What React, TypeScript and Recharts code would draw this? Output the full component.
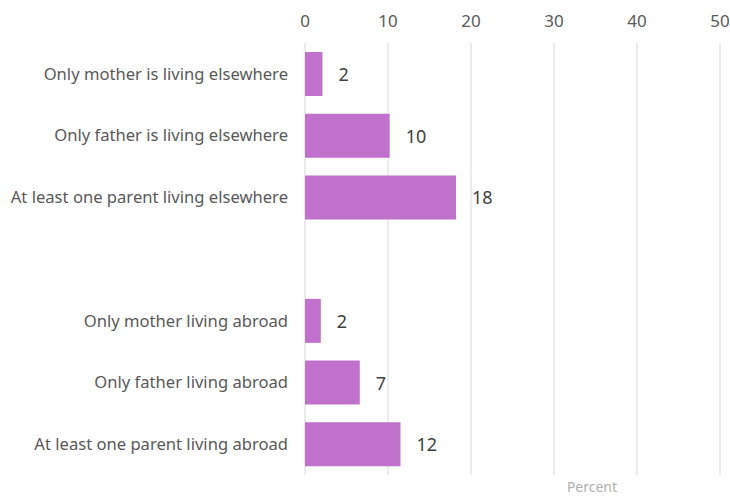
import React from "react";
import { BarChart, Bar, XAxis, YAxis, CartesianGrid, LabelList } from "recharts";

const categories = [
  "Only mother is living elsewhere",
  "Only father is living elsewhere",
  "At least one parent living elsewhere",
  "",
  "Only mother living abroad",
  "Only father living abroad",
  "At least one parent living abroad",
];
const values: (number | null)[] = [2.1, 10.2, 18.2, null, 1.9, 6.6, 11.5];
const valueLabels = ["2", "10", "18", "", "2", "7", "12"];
const xTicks = [0, 10, 20, 30, 40, 50];

const data = categories.map((c, i) => ({ name: c, value: values[i], label: valueLabels[i] }));

const FONT = "'Noto Sans', Roboto, sans-serif";

const ValueLabel = (props: any) => {
  const { x, y, width, height, value } = props;
  if (!value) return null;
  return (
    <text
      x={x + width + 16}
      y={y + height / 2}
      dominantBaseline="central"
      fill="#404040"
      fontSize={18}
      fontFamily={FONT}
    >
      {value}
    </text>
  );
};

export default function App() {
  return (
    <div style={{ position: "absolute", left: 0, top: 0, width: 730, height: 496, background: "#fff" }}>
      <BarChart
        width={730}
        height={496}
        data={data}
        layout="vertical"
        margin={{ top: 0, right: 10, bottom: 21, left: 0 }}
        barSize={44}
      >
        <CartesianGrid horizontal={false} vertical={true} stroke="#d9d9d9" />
        <XAxis
          type="number"
          orientation="top"
          domain={[0, 50]}
          ticks={xTicks}
          height={43}
          axisLine={false}
          tickLine={false}
          tickSize={0}
          tickMargin={16}
          tick={{ fill: "#595959", fontSize: 17, fontFamily: FONT }}
        />
        <YAxis
          type="category"
          dataKey="name"
          width={305}
          axisLine={false}
          tickLine={false}
          tickSize={0}
          tickMargin={17}
          interval={0}
          tick={{ fill: "#595959", fontSize: 16.6, fontFamily: FONT }}
        />
        <Bar dataKey="value" fill="#C071CC" isAnimationActive={false}>
          <LabelList dataKey="label" content={<ValueLabel />} />
        </Bar>
      </BarChart>
      <div
        style={{
          position: "absolute",
          left: 557,
          top: 479,
          width: 70,
          textAlign: "center",
          fontFamily: FONT,
          fontSize: 14,
          color: "#b0b0b0",
          lineHeight: "16px",
        }}
      >
        Percent
      </div>
    </div>
  );
}
